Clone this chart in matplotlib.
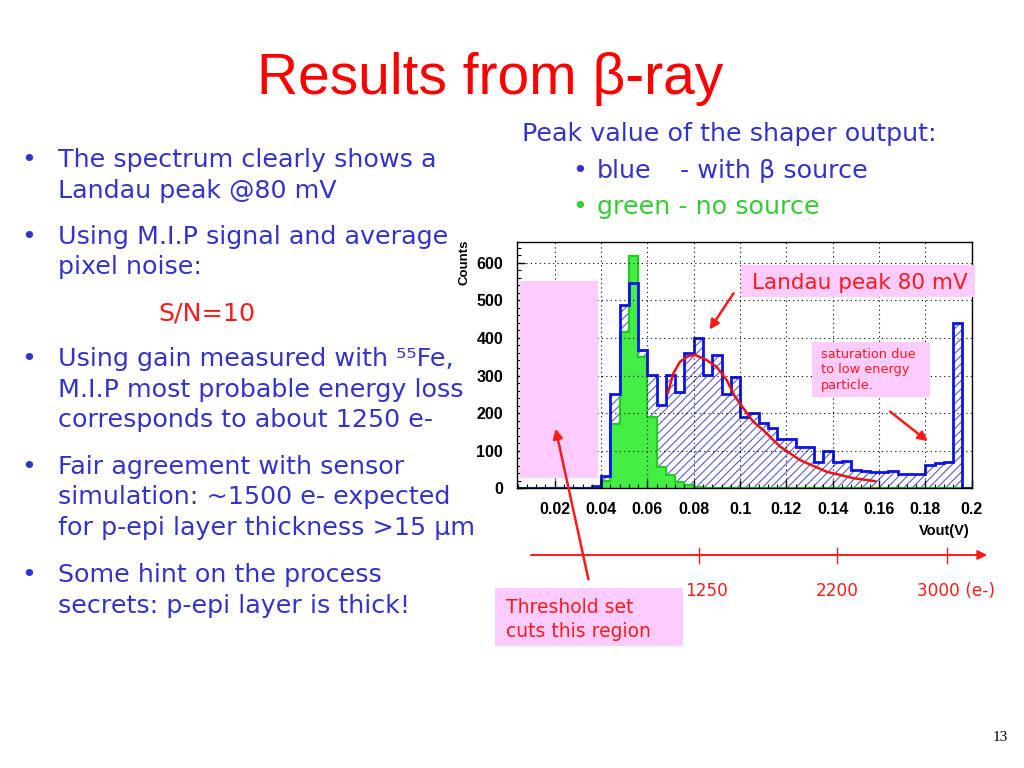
import numpy as np
import matplotlib.pyplot as plt
from matplotlib.patches import Rectangle, FancyArrowPatch
from matplotlib.lines import Line2D
from matplotlib.ticker import MultipleLocator, FormatStrFormatter
from matplotlib.transforms import blended_transform_factory

W, H = 1024, 768


def fx(x):
    return x / W


def fy(y):
    return 1 - y / H


# Dati (istogramma 0 - 0.2 V, bin da 4 mV)
bin_edges = np.linspace(0, 0.2, 51)

blue_counts = [0, 0, 0, 0, 0, 0, 0, 0, 0, 5,
               33, 250, 487, 545, 369, 301, 221, 301, 255, 359,
               399, 301, 355, 251, 297, 190, 201, 173, 160, 130,
               130, 111, 111, 71, 100, 69, 73, 50, 45, 43,
               43, 46, 38, 37, 37, 62, 67, 70, 440, 0]

green_counts = [0, 0, 0, 0, 0, 0, 0, 0, 0, 0,
                20, 170, 415, 618, 348, 190, 57, 35, 18, 9,
                4, 2, 1, 0, 0, 0, 0, 0, 0, 0,
                0, 0, 0, 0, 0, 0, 0, 0, 0, 0,
                0, 0, 0, 0, 0, 0, 0, 0, 0, 0]

# curva di fit (Landau)
fit_v = [0.0688, 0.0712, 0.0741, 0.0775, 0.0805, 0.0856, 0.0899, 0.0942, 0.0978,
         0.1014, 0.1057, 0.1100, 0.1144, 0.1173, 0.1259, 0.1374, 0.1489, 0.1583]
fit_counts = [253, 306, 337, 351, 355, 341, 323, 288, 244,
              213, 177, 155, 128, 111, 75, 44, 27, 19]

x_ticks = [0.02, 0.04, 0.06, 0.08, 0.1, 0.12, 0.14, 0.16, 0.18, 0.2]
y_ticks = [0, 100, 200, 300, 400, 500, 600]

# scala in elettroni
charge_labels = ['1250', '2200', '3000 (e-)']
charge_v = [0.0824, 0.1418, 0.1895]

# Colori
text_blue = '#3333cc'
hist_blue = '#0a14e6'
hatch_blue = '#5a5ad8'
fill_green = '#44ee44'
line_green = '#22cc22'
pink = '#ffccff'
red = '#ff1a1a'

plt.rcParams['hatch.linewidth'] = 0.8

fig = plt.figure(figsize=(10.24, 7.68), dpi=100)
fig.patch.set_facecolor('white')

# Titolo
fig.text(fx(490), fy(94), 'Results from β-ray', ha='center', va='baseline',
         fontsize=41, color='#ff0000', family='Liberation Sans')

# Testo a sinistra
body = dict(fontsize=18.3, color=text_blue, family='DejaVu Sans', va='baseline')
left_lines = [
    (167, True, 'The spectrum clearly shows a'),
    (198, False, 'Landau peak @80 mV'),
    (244, True, 'Using M.I.P signal and average'),
    (274, False, 'pixel noise:'),
    (366, True, 'Using gain measured with ⁵⁵Fe,'),
    (397, False, 'M.I.P most probable energy loss'),
    (427, False, 'corresponds to about 1250 e-'),
    (474, True, 'Fair agreement with sensor'),
    (504, False, 'simulation: ~1500 e- expected'),
    (535, False, 'for p-epi layer thickness >15 μm'),
    (582, True, 'Some hint on the process'),
    (613, False, 'secrets: p-epi layer is thick!'),
]
for yb, bullet, txt in left_lines:
    if bullet:
        fig.text(fx(21), fy(yb), '•', **body)
    fig.text(fx(58), fy(yb), txt, **body)
fig.text(fx(158), fy(320), 'S/N=10', fontsize=18.3, color=red,
         family='DejaVu Sans', va='baseline')

# Testo a destra
fig.text(fx(522), fy(141), 'Peak value of the shaper output:', **body)
fig.text(fx(572), fy(178), '•', **body)
fig.text(fx(597), fy(178), 'blue', **body)
fig.text(fx(680), fy(178), '- with β source', **body)
green_body = dict(body)
green_body['color'] = '#33cc33'
fig.text(fx(572), fy(214), '•', **green_body)
fig.text(fx(597), fy(214), 'green - no source', **green_body)

# Istogramma
ax = fig.add_axes([fx(517), fy(488.3), (971.7 - 517) / W, (488.3 - 241.7) / H])
ax.stairs(blue_counts, bin_edges, fill=True, facecolor='none', edgecolor=hatch_blue,
          hatch='////', linewidth=0, zorder=1)
ax.stairs(green_counts, bin_edges, fill=True, facecolor=fill_green, linewidth=0, zorder=1.2)
ax.stairs(green_counts, bin_edges, color=line_green, linewidth=1.6, zorder=1.4)
ax.stairs(blue_counts, bin_edges, color=hist_blue, linewidth=2.0, zorder=1.6)
ax.plot(fit_v, fit_counts, color='#ee1111', linewidth=1.8, zorder=3)

ax.set_xlim(0.0037, 0.2)
ax.set_ylim(0, 656)
ax.set_xticks(x_ticks)
ax.set_yticks(y_ticks)
ax.xaxis.set_major_formatter(FormatStrFormatter('%g'))
ax.xaxis.set_minor_locator(MultipleLocator(0.004))
ax.yaxis.set_minor_locator(MultipleLocator(20))
ax.tick_params(which='both', direction='in', top=False, right=False, color='black')
ax.tick_params(which='major', length=6, width=1)
ax.tick_params(which='minor', length=3, width=0.8)
ax.tick_params(axis='x', which='major', pad=10)
ax.tick_params(axis='y', which='major', pad=10)
for lab in ax.get_xticklabels() + ax.get_yticklabels():
    lab.set_family('Liberation Sans')
    lab.set_fontweight('bold')
    lab.set_fontsize(11.5)
ax.set_axisbelow(False)
ax.grid(True, which='major', color='black', linestyle=(0, (1, 3)), linewidth=0.8)
for sp in ax.spines.values():
    sp.set_linewidth(1.0)
    sp.set_color('black')

fig.text(fx(464), fy(262), 'Counts', rotation=90, ha='center', va='center',
         fontsize=9.5, fontweight='bold', family='Liberation Sans')
fig.text(fx(970), fy(535), 'Vout(V)', ha='right', va='baseline',
         fontsize=10.5, fontweight='bold', family='Liberation Sans')

# Riquadri rosa e frecce
fig.add_artist(Rectangle((fx(520), fy(478)), (598 - 520) / W, (478 - 281) / H,
                         transform=fig.transFigure, facecolor=pink, edgecolor='none', zorder=5))

fig.add_artist(Rectangle((fx(741), fy(297)), (975 - 741) / W, (297 - 265) / H,
                         transform=fig.transFigure, facecolor=pink, edgecolor='none', zorder=5))
fig.text(fx(752), fy(289), 'Landau peak 80 mV', fontsize=15.5, color=red,
         family='DejaVu Sans', va='baseline', zorder=6)

fig.add_artist(Rectangle((fx(812), fy(397)), (930 - 812) / W, (397 - 342) / H,
                         transform=fig.transFigure, facecolor=pink, edgecolor='none', zorder=5))
for yb, txt in [(358, 'saturation due'), (373, 'to low energy'), (389, 'particle.')]:
    fig.text(fx(821), fy(yb), txt, fontsize=9.3, color=red,
             family='DejaVu Sans', va='baseline', zorder=6)

fig.add_artist(Rectangle((fx(495), fy(646)), (683 - 495) / W, (646 - 588) / H,
                         transform=fig.transFigure, facecolor=pink, edgecolor='none', zorder=5))
fig.text(fx(506), fy(613), 'Threshold set', fontsize=13.5, color=red,
         family='DejaVu Sans', va='baseline', zorder=6)
fig.text(fx(506), fy(637), 'cuts this region', fontsize=13.5, color=red,
         family='DejaVu Sans', va='baseline', zorder=6)

arrows = [((735, 291), (708, 332)),
          ((888, 410), (930, 443)),
          ((589, 582), (555, 426))]
for (x0, y0), (x1, y1) in arrows:
    fig.add_artist(FancyArrowPatch((fx(x0), fy(y0)), (fx(x1), fy(y1)),
                                   transform=fig.transFigure, arrowstyle='-|>',
                                   mutation_scale=14, color=red, linewidth=1.8, zorder=7))

# Scala in elettroni sotto il grafico
trans = blended_transform_factory(ax.transData, fig.transFigure)
fig.add_artist(FancyArrowPatch((0.0085, fy(555)), (0.2079, fy(555)), transform=trans,
                               arrowstyle='-|>', mutation_scale=14, color=red,
                               linewidth=1.4, zorder=7))
label_offsets = [5, 0, 6]
for v, lab, dx in zip(charge_v, charge_labels, label_offsets):
    fig.add_artist(Line2D([v, v], [fy(548), fy(563)], transform=trans,
                          color=red, linewidth=1.0, zorder=7))
    ax.annotate(lab, xy=(v, fy(596)), xycoords=trans, xytext=(dx, 0),
                textcoords='offset points', ha='center', va='baseline',
                fontsize=12.2, color=red, family='DejaVu Sans', annotation_clip=False)

# numero di pagina
fig.text(fx(1000), fy(741), '13', ha='center', va='baseline', fontsize=11,
         family='Liberation Serif', color='black')

fig.savefig('out.png', dpi=100)
